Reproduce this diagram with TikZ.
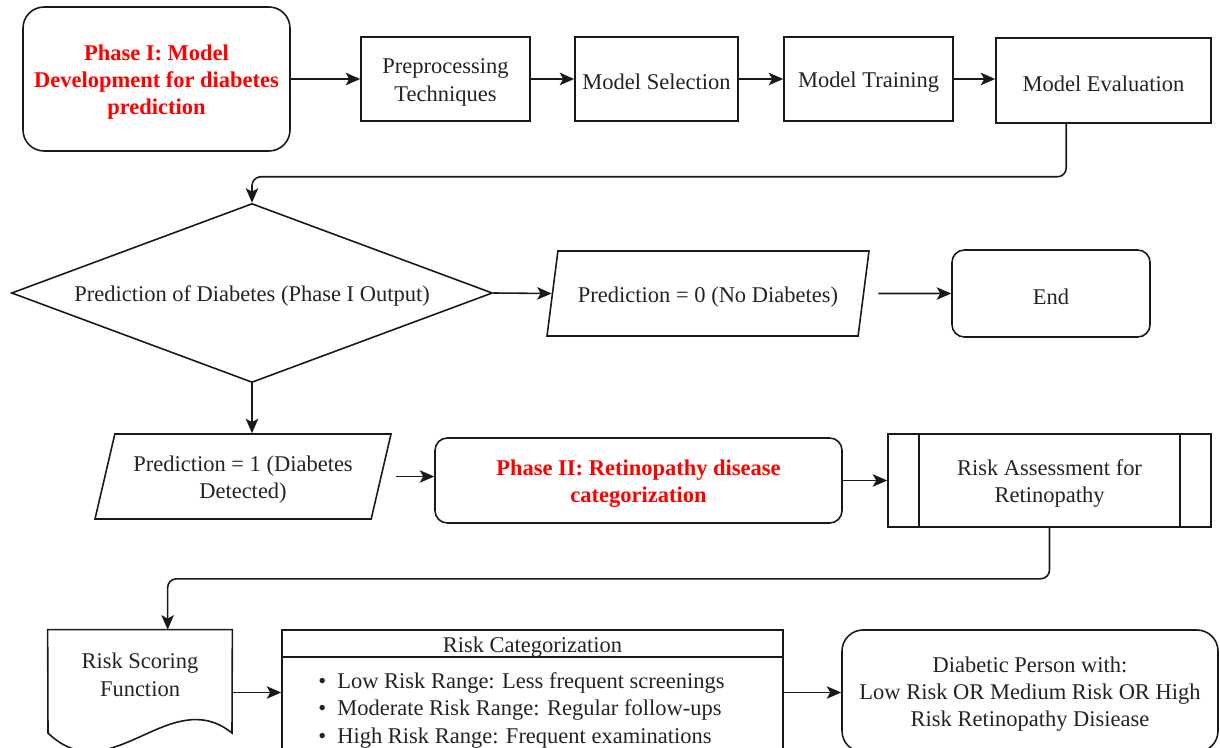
\documentclass[tikz,border=0pt]{standalone}
\usepackage{fontspec}
\setmainfont{Liberation Serif}
\usepackage{xcolor}
\usepackage{tikz}
\usetikzlibrary{arrows.meta,positioning,calc,shapes.geometric}
\definecolor{flowline}{RGB}{25,25,25}
\definecolor{flowtext}{RGB}{35,35,35}
\definecolor{phasered}{RGB}{255,0,0}

\begin{document}
\begin{tikzpicture}[x=1cm,y=1cm,
  font=\fontsize{12.8}{15.6}\selectfont,
  textdrop/.style={execute at begin node={\rule{0pt}{12.4pt}}},
  twoline/.style={text height=28pt},
  threeline/.style={text height=43.6pt},
  terminal/.style={draw=flowline,line width=.9pt,rounded corners=7pt,align=center,text=flowtext,inner sep=2pt,textdrop},
  phase/.style={terminal,font=\fontsize{12.8}{15.6}\selectfont\bfseries,text=phasered},
  stepbox/.style={draw=flowline,line width=.9pt,align=center,text=flowtext,inner sep=2pt,textdrop},
  decision/.style={draw=flowline,line width=.9pt,diamond,aspect=2.7,inner sep=0pt,text=flowtext,textdrop},
  io/.style={draw=flowline,line width=.9pt,trapezium,trapezium left angle=72,trapezium right angle=108,
    trapezium stretches body,align=center,text=flowtext,inner sep=2pt,textdrop},
  note/.style={align=left,text=flowtext,inner sep=0pt},
  outline/.style={draw=flowline,line width=.9pt},
  flow/.style={-{Stealth[length=2.9mm,width=2.5mm,inset=.7mm]},outline},
  elbow/.style={flow,rounded corners=5pt}]

\path[use as bounding box] (0,0) rectangle (24.4,-14.96);
\clip (0,0) rectangle (24.4,-14.96);

% phase I pipeline
\node[phase,threeline,rounded corners=12pt,minimum width=5.34cm,minimum height=2.88cm] (phaseone) at (3.13,-1.58)
  {Phase I: Model\\Development for diabetes\\prediction};
\node[stepbox,twoline,minimum width=3.38cm,minimum height=1.68cm] (prep) at (8.91,-1.58) {Preprocessing\\Techniques};
\node[stepbox,minimum width=3.26cm,minimum height=1.68cm] (select) at (13.13,-1.58) {Model Selection};
\node[stepbox,minimum width=3.38cm,minimum height=1.68cm] (train) at (17.37,-1.58) {Model Training};
\node[stepbox,minimum width=4.3cm,minimum height=1.7cm] (evalm) at (22.07,-1.61) {Model Evaluation};
\draw[flow] (phaseone.east) -- (prep.west);
\draw[flow] (prep) -- (select);
\draw[flow] (select) -- (train);
\draw[flow] (train.east) -- (train.east -| evalm.west);

% decision
\node[decision,minimum width=9.62cm,minimum height=3.58cm] (pred) at (5.04,-5.86)
  {Prediction of Diabetes (Phase I Output)};
\node[io,minimum width=6.44cm,minimum height=1.7cm] (nodiab) at (14.16,-5.87) {Prediction = 0 (No Diabetes)};
\node[terminal,minimum width=3.96cm,minimum height=1.74cm] (endn) at (21.02,-5.87) {End};
\draw[elbow] ($(evalm.south west)+(1.42,0)$) -- ++(0,-1.06) -| (pred.north);
\draw[flow] (pred.east) -- (nodiab.west);
\draw[flow,shorten <=.28cm] (nodiab.east) -- (endn.west);

% phase II
\node[io,twoline,minimum width=5.92cm,minimum height=1.7cm] (diab) at (4.86,-9.53) {Prediction = 1 (Diabetes\\Detected)};
\node[phase,twoline,minimum width=8.14cm,minimum height=1.7cm] (phasetwo) at (12.77,-9.61)
  {Phase II: Retinopathy disease\\categorization};
\node[stepbox,twoline,minimum width=6.46cm,minimum height=1.86cm] (riska) at (20.99,-9.61) {Risk Assessment for\\Retinopathy};
\draw[outline] ($(riska.north west)+(.64,0)$) -- ($(riska.south west)+(.64,0)$);
\draw[outline] ($(riska.north east)+(-.64,0)$) -- ($(riska.south east)+(-.64,0)$);
\draw[flow] (pred.south) -- (pred.south |- diab.north);
\draw[flow,shorten <=.28cm] (diab.east) -- (diab.east -| phasetwo.west);
\draw[flow] (phasetwo.east) -- (phasetwo.east -| riska.west);

% scoring and categories
\node[minimum width=3.68cm,minimum height=1.8cm,align=center,text=flowtext] (score) at (2.8,-13.5)
  {Risk Scoring\\Function};
\draw[outline] (score.north west) -- (score.north east) -- (4.64,-14.66)
  .. controls (3.4,-13.66) and (2.2,-15.86) .. (0.96,-14.66) -- cycle;
\node[stepbox,minimum width=10.02cm,minimum height=2.5cm] (riskcat) at (10.65,-13.85) {};
\draw[outline] ($(riskcat.north west)+(0,-.56)$) -- ($(riskcat.north east)+(0,-.56)$);
\node[text=flowtext,textdrop] (cattitle) at (10.65,-12.88) {Risk Categorization};
\node[note,anchor=north west] (catlist) at (6.36,-13.44)
  {\textbullet\hspace{6.3pt}Low Risk Range: Less frequent screenings\\
   \textbullet\hspace{6.3pt}Moderate Risk Range: Regular follow-ups\\
   \textbullet\hspace{6.3pt}High Risk Range: Frequent examinations};
\node[terminal,threeline,rounded corners=12pt,minimum width=7.52cm,minimum height=2.44cm] (final) at (20.6,-13.82)
  {Diabetic Person with:\\Low Risk OR Medium Risk OR High\\Risk Retinopathy Disiease};
\draw[elbow] (riska.south) -- ++(0,-1.02) -| ($(score.north west)+(2.4,0)$);
\draw[flow] (score.east |- riskcat.west) -- (riskcat.west);
\draw[flow] (riskcat.east) -- (riskcat.east -| final.west);

\end{tikzpicture}
\end{document}
